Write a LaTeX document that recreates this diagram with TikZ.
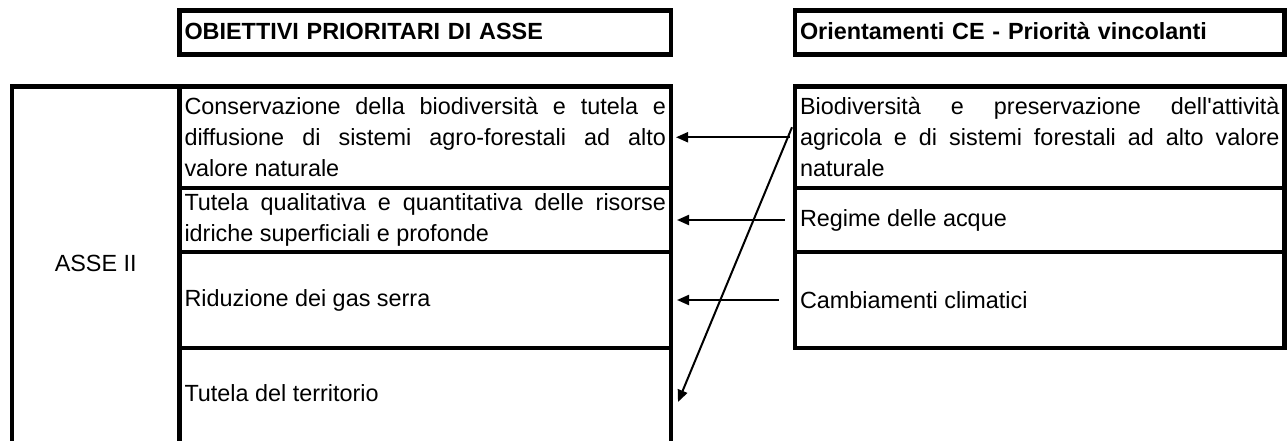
\documentclass[tikz,border=0pt]{standalone}
\usepackage{fontspec}
\setmainfont{Liberation Sans}[Ligatures=TeXOff]
\usetikzlibrary{arrows.meta}
\tolerance=10000
\hyphenpenalty=10000
\hbadness=10000
\begin{document}
\begin{tikzpicture}[x=1pt,y=-1pt,
  box/.style={draw=black, line width=4.5pt, outer sep=0pt, inner xsep=5pt, inner ysep=0pt,
    anchor=north west, font=\fontsize{23.4}{31}\selectfont},
  lcell/.style={box, minimum width=491.5pt, text width=481.5pt, align=justify},
  rcell/.style={box, minimum width=489.5pt, text width=479.5pt, align=justify},
  hdr/.style={box, minimum height=44pt, text depth=3pt, align=left,
    font=\fontsize{23.4}{31}\selectfont\bfseries},
  link/.style={draw=black, line width=2pt, -{Triangle[length=12pt,width=10pt]}}
]
\useasboundingbox (0,0) rectangle (1287,441);
\clip (0,0) rectangle (1287,441);

% headers
\node[hdr, minimum width=491.5pt, text width=481.5pt] (hA) at (179.5,10.5) {OBIETTIVI PRIORITARI DI ASSE};
\node[hdr, minimum width=489.5pt, text width=479.5pt] (hB) at (795,10.5) {Orientamenti CE - Priorità vincolanti};

% left block
\node[box, minimum width=167.5pt, minimum height=359.5pt, align=center, text depth=5.85pt] (asse) at (12,86.5) {ASSE II};
\node[lcell, minimum height=101.5pt] (r1) at (179.5,86.5)
  {Conservazione della biodiversità e tutela e\linebreak diffusione di sistemi agro-forestali ad alto\linebreak valore naturale};
\node[lcell, minimum height=64pt] (r2) at (179.5,188)
  {Tutela qualitativa e quantitativa delle risorse\linebreak idriche superficiali e profonde};
\node[lcell, minimum height=96pt] (r3) at (179.5,252) {Riduzione dei gas serra};
\node[lcell, minimum height=98pt, text depth=7.6pt] (r4) at (179.5,348) {Tutela del territorio};

% right block
\node[rcell, minimum height=101.5pt] (rb1) at (795,86.5)
  {Biodiversità e preservazione dell'attività\linebreak agricola e di sistemi forestali ad alto valore\linebreak naturale};
\node[rcell, minimum height=64pt] (rb2) at (795,188) {Regime delle acque};
\node[rcell, minimum height=96pt] (rb3) at (795,252) {Cambiamenti climatici};

% connectors
\draw[link, shorten <=5pt, shorten >=5pt] (rb1.west) -- (r1.east);
\draw[link, shorten <=10pt, shorten >=6pt] (rb2.west) -- (r2.east);
\draw[link, shorten <=16pt, shorten >=6pt] (rb3.west) -- (r3.east);
\draw[link] ([shift={(-3,-10)}]rb1.west) -- ([shift={(7,5)}]r4.east);
\end{tikzpicture}
\end{document}
